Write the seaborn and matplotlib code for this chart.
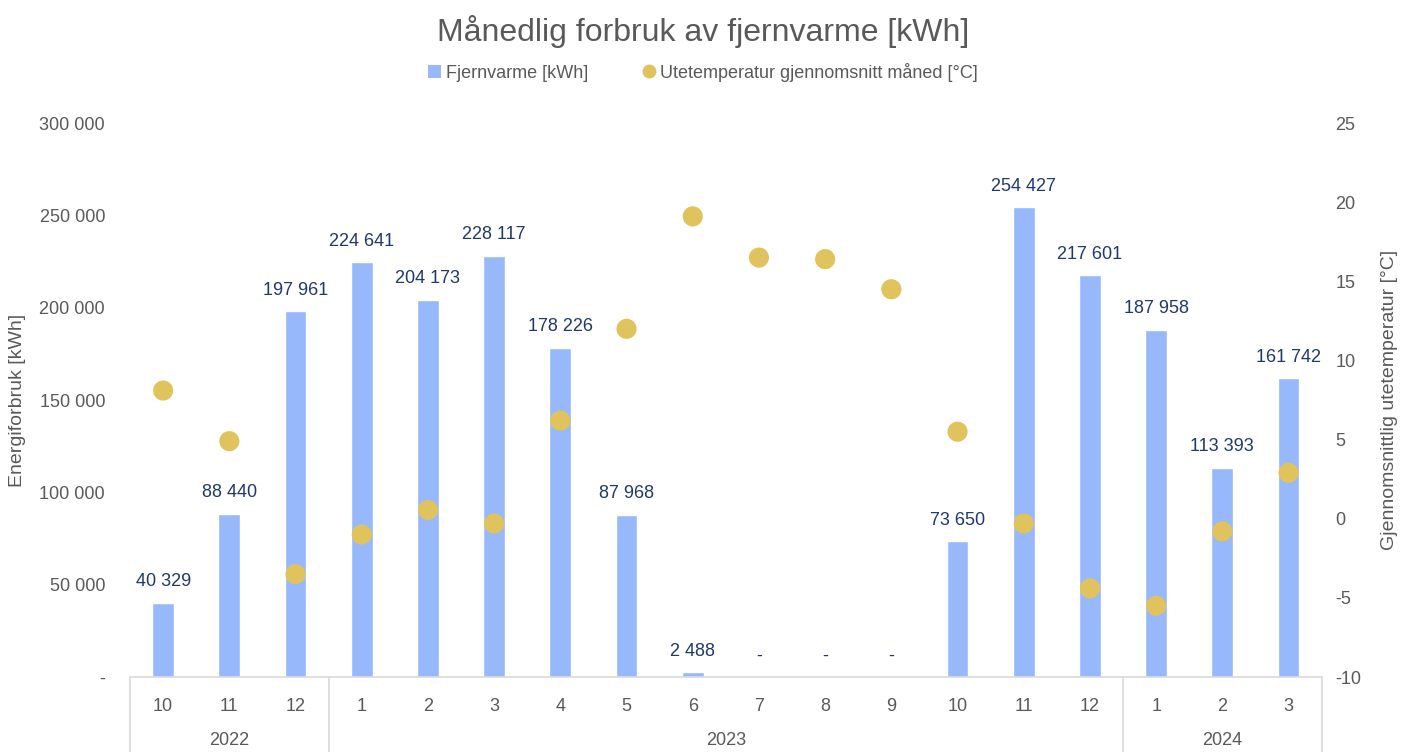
import numpy as np
import pandas as pd
import matplotlib
matplotlib.use('Agg')
import matplotlib.pyplot as plt
import matplotlib.transforms as mtransforms
from matplotlib.lines import Line2D
from matplotlib.patches import Patch
import seaborn as sns

# Data
months = ['10', '11', '12', '1', '2', '3', '4', '5', '6', '7', '8', '9',
          '10', '11', '12', '1', '2', '3']
years = ['2022', '2023', '2024']
year_counts = [3, 12, 3]
energy_kwh = [40329, 88440, 197961, 224641, 204173, 228117, 178226, 87968,
              2488, 0, 0, 0, 73650, 254427, 217601, 187958, 113393, 161742]
temp_c = [8.1, 4.9, -3.5, -1.0, 0.55, -0.3, 6.2, 12.0, 19.1, 16.5, 16.4, 14.5,
          5.5, -0.3, -4.4, -5.5, -0.8, 2.9]

df = pd.DataFrame({'idx': range(len(months)), 'month': months,
                   'energy': energy_kwh, 'temp': temp_c})

bar_color = '#97B9FC'
dot_color = '#E0C35C'
label_color = '#1F3870'
text_gray = '#595959'
line_gray = '#D9D9D9'


def space_thousands(v):
    if v == 0:
        return '-'
    return f'{int(v):,}'.replace(',', ' ')


sns.set_theme(style='white')
plt.rcParams['font.family'] = ['Liberation Sans', 'DejaVu Sans']
plt.rcParams['axes.unicode_minus'] = False

fig = plt.figure(figsize=(14.06, 7.52), dpi=100)
ax = fig.add_axes([0.0925, 0.0997, 0.8475, 0.7367])

sns.barplot(data=df, x='idx', y='energy', color=bar_color, width=0.33,
            saturation=1, ax=ax)

for i, v in enumerate(energy_kwh):
    ax.annotate(space_thousands(v), (i, v), xytext=(0, 9),
                textcoords='offset points', ha='center', va='bottom',
                fontsize=13, color=label_color)

ax.set_ylim(0, 300000)
ax.set_xlim(-0.5, len(months) - 0.5)
ax.set_yticks(np.arange(0, 300001, 50000))
ax.set_yticklabels([space_thousands(t) for t in np.arange(0, 300001, 50000)])
ax.set_xticks(range(len(months)))
ax.set_xticklabels(months)
ax.tick_params(axis='x', length=0, pad=15, labelsize=13, colors=text_gray)
ax.tick_params(axis='y', length=0, pad=18, labelsize=13, colors=text_gray)
ax.set_xlabel('')
ax.set_ylabel('Energiforbruk [kWh]', fontsize=14, color=text_gray, labelpad=10)

for s in ['top', 'left', 'right']:
    ax.spines[s].set_visible(False)
ax.spines['bottom'].set_color(line_gray)
ax.spines['bottom'].set_linewidth(1.2)

ax2 = ax.twinx()
sns.scatterplot(x=df['idx'], y=df['temp'], color=dot_color, s=210,
                edgecolor='none', ax=ax2, zorder=3)
ax2.set_ylim(-10, 25)
ax2.set_yticks(np.arange(-10, 26, 5))
ax2.tick_params(axis='y', length=0, pad=10, labelsize=13, colors=text_gray)
ax2.set_xlim(-0.5, len(months) - 0.5)
ax2.set_ylabel('Gjennomsnittlig utetemperatur [°C]', fontsize=14,
               color=text_gray, labelpad=14)
ax2.set_xlabel('')
for s in ['top', 'left', 'right', 'bottom']:
    ax2.spines[s].set_visible(False)

# Multi-level category axis: year separators and labels
trans = mtransforms.blended_transform_factory(ax.transData, ax.transAxes)
bounds = [-0.5]
for c in year_counts:
    bounds.append(bounds[-1] + c)
for b in bounds:
    ax.plot([b, b], [0, -0.2], transform=trans, color=line_gray, lw=1.2,
            clip_on=False)
for y, a, b in zip(years, bounds[:-1], bounds[1:]):
    ax.text((a + b) / 2, -0.115, y, transform=trans, ha='center', va='center',
            fontsize=13, color=text_gray)

fig.text(0.5, 1 - 32 / 752, 'Månedlig forbruk av fjernvarme [kWh]',
         ha='center', va='center', fontsize=23, color=text_gray)

handles = [Patch(facecolor=bar_color, edgecolor='none'),
           Line2D([], [], marker='o', ls='none', markersize=10,
                  markerfacecolor=dot_color, markeredgecolor='none')]
fig.legend(handles, ['Fjernvarme [kWh]', 'Utetemperatur gjennomsnitt måned [°C]'],
           loc='center', bbox_to_anchor=(0.5, 1 - 72 / 752), ncol=2,
           frameon=False, fontsize=13, labelcolor=text_gray,
           handlelength=0.7, handleheight=0.7, handletextpad=0.3,
           columnspacing=3)

fig.savefig('out.png', dpi=100)
